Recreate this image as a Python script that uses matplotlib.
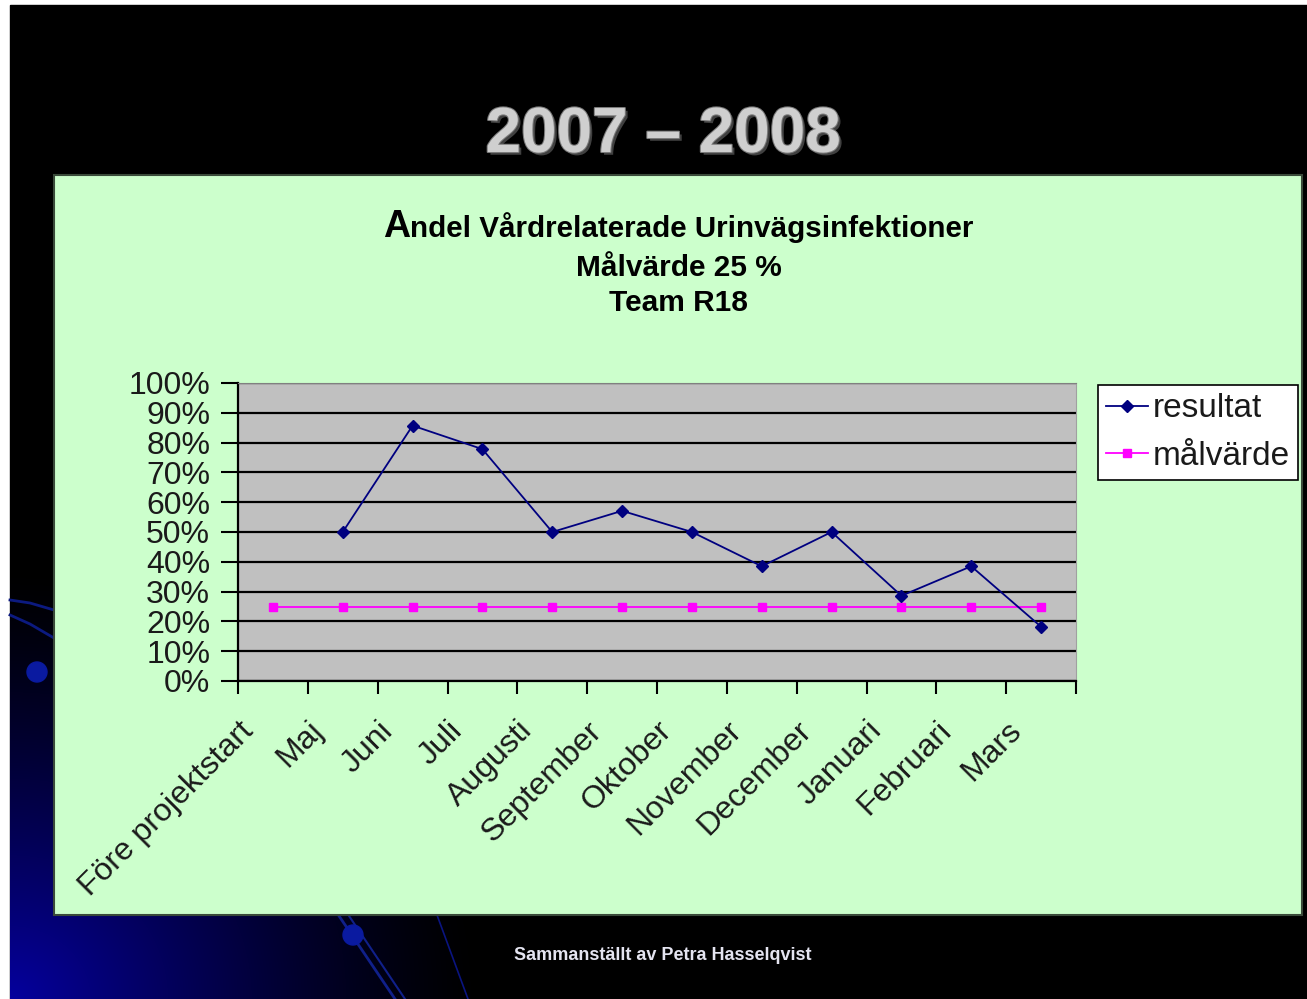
import matplotlib
matplotlib.use("Agg")
import matplotlib.pyplot as plt
import matplotlib.patheffects as pe
import matplotlib.transforms as mtransforms
from matplotlib.patches import Rectangle, Circle
from matplotlib.ticker import PercentFormatter, FixedLocator, NullFormatter
import numpy as np

plt.rcParams['font.family'] = ['Liberation Sans', 'DejaVu Sans']

# data
manader = ["Före projektstart", "Maj", "Juni", "Juli", "Augusti", "September",
           "Oktober", "November", "December", "Januari", "Februari", "Mars"]
resultat = [np.nan, 0.50, 0.857, 0.778, 0.50, 0.571, 0.50, 0.385, 0.50, 0.286, 0.385, 0.182]
malvarde = [0.25] * 12

W, H = 1307, 999
fig = plt.figure(figsize=(W / 100, H / 100), dpi=100, facecolor="white")

# bakgrund (bildspel)
bg = fig.add_axes([0, 0, 1, 1])
bg.set_xlim(0, W)
bg.set_ylim(H, 0)
bg.axis("off")
bg.add_patch(Rectangle((10, 5), W - 10, H - 5, color="black", zorder=0))
yy, xx = np.mgrid[5:H, 10:W]
d = np.sqrt(((xx - 10) / 470.0) ** 2 + ((yy - H) / 430.0) ** 2)
inten = np.clip(1 - d, 0, 1) ** 1.3
img = np.zeros(xx.shape + (3,))
img[..., 2] = 0.62 * inten
img[..., 0] = 0.02 * inten
bg.imshow(img, extent=(10, W, H, 5), zorder=1, aspect="auto")
# dekorativa bågar och cirklar
bg.plot([10, 30, 54], [600, 603, 610], color="#0c1a80", lw=2, zorder=2)
bg.plot([10, 30, 54], [615, 624, 638], color="#0c1a80", lw=2, zorder=2)
bg.add_patch(Circle((37, 672), 10, color="#0a1aa0", zorder=2))
bg.plot([335, 395], [910, 999], color="#10208a", lw=2, zorder=2)
bg.plot([345, 405], [910, 999], color="#10208a", lw=1.5, zorder=2)
bg.add_patch(Circle((353, 935), 10, color="#0a1aa0", zorder=2))
bg.plot([437, 468], [915, 999], color="#0a1480", lw=1.2, zorder=2)

# grön diagramyta
bg.add_patch(Rectangle((54, 175), 1302 - 54, 915 - 175, facecolor="#ccffcc",
                       edgecolor="#3a4a3a", lw=1.5, zorder=3))

# rubriker
bg.text(663, 152, "2007 – 2008", fontsize=46, fontweight="bold", color="#cfcfcf",
        ha="center", va="baseline", zorder=5,
        path_effects=[pe.withSimplePatchShadow(offset=(2, -2), shadow_rgbFace="#404040", alpha=1),
                      pe.withStroke(linewidth=1.5, foreground="#7a7a7a")])
bg.text(410, 237, "A", fontsize=27, fontweight="bold", ha="right", va="baseline", zorder=5)
bg.text(410, 237, "ndel Vårdrelaterade Urinvägsinfektioner", fontsize=21.3,
        fontweight="bold", ha="left", va="baseline", zorder=5)
bg.text(679, 276, "Målvärde 25 %", fontsize=21.5, fontweight="bold", ha="center", va="baseline", zorder=5)
bg.text(678, 311, "Team R18", fontsize=21.5, fontweight="bold", ha="center", va="baseline", zorder=5)
bg.text(663, 955, "Sammanställt av Petra Hasselqvist", fontsize=13, fontweight="bold",
        color="#e4e4f0", ha="center", va="center", zorder=5)

# diagram
ax = fig.add_axes([238 / W, 1 - 681 / H, (1076 - 238) / W, (681 - 383) / H])
ax.set_facecolor("#c0c0c0")
x = np.arange(len(manader))
ax.plot(x, resultat, color="#000080", lw=1.3, marker="D", ms=6, label="resultat", zorder=4)
ax.plot(x, malvarde, color="#ff00ff", lw=1.3, marker="s", ms=6, label="målvärde", zorder=3)

ax.set_xlim(-0.5, len(manader) - 0.5)
ax.set_ylim(0, 1)
ax.set_yticks(np.arange(0, 1.01, 0.1))
ax.yaxis.set_major_formatter(PercentFormatter(1.0, decimals=0))
ax.yaxis.grid(True, color="black", lw=1.6)
ax.set_axisbelow(True)

ax.xaxis.set_major_locator(FixedLocator(np.arange(-0.5, len(manader), 1.0)))
ax.xaxis.set_major_formatter(NullFormatter())
ax.xaxis.set_minor_locator(FixedLocator(x))
ax.set_xticklabels(manader, minor=True, rotation=45, ha="right", va="top",
                   rotation_mode="anchor", fontsize=23, color="#1a1a1a")
ax.tick_params(axis="x", which="major", length=9, width=1.5, direction="out")
ax.tick_params(axis="x", which="minor", length=0, pad=20)
ax.tick_params(axis="y", length=12, width=1.5, direction="out", labelsize=23, pad=8,
               labelcolor="#1a1a1a")
skift = mtransforms.ScaledTranslation(-0.35, -0.07, fig.dpi_scale_trans)
for lab in ax.get_xticklabels(minor=True):
    lab.set_transform(lab.get_transform() + skift)

for s in ["left", "bottom"]:
    ax.spines[s].set_color("black")
    ax.spines[s].set_linewidth(1.6)
ax.spines["top"].set_color("#808080")
ax.spines["right"].set_color("#a0a0a0")

leg = ax.legend(loc="upper left", bbox_to_anchor=(1098 / W, 1 - 385 / H),
                bbox_transform=fig.transFigure, fontsize=24, frameon=True, fancybox=False,
                edgecolor="black", facecolor="white", framealpha=1, handlelength=1.25,
                handletextpad=0.15, borderpad=0.25, labelspacing=0.5, borderaxespad=0)
leg.get_frame().set_linewidth(1.2)
for t in leg.get_texts():
    t.set_color("#1a1a1a")

fig.savefig("out.png", dpi=100, facecolor=fig.get_facecolor())
